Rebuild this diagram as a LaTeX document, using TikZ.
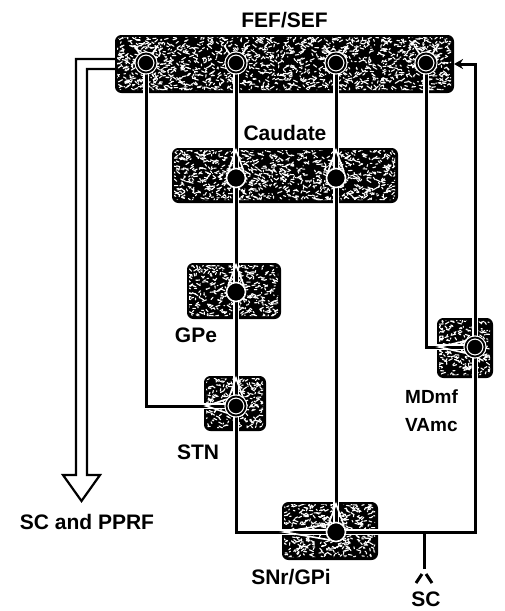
\documentclass[tikz,border=0pt]{standalone}
\usepackage{fontspec}
\newfontfamily\figfont{Liberation Sans}
\usepackage{tikz}
\usetikzlibrary{positioning,arrows.meta,calc,backgrounds}

\tikzset{
  region/.style={draw=black, fill=black, line width=1pt, rounded corners=6pt,
                 inner sep=0pt, anchor=north west},
  grain/.style={white, line width=1.1pt, line cap=round},
  lbl/.style={font=\figfont\bfseries\fontsize{21}{23}\selectfont, inner sep=0pt},
  wire/.style={line width=3pt},
  cased/.style={wire, preaction={draw=white, line width=6.4pt}},
  dend/.style={white, line width=1.6pt, line cap=round},
  soma/.style={circle, fill=black, draw=white, line width=1.6pt,
               minimum size=19pt, inner sep=0pt},
  pyr/.style={soma, double=black, double distance=1.8pt, line width=1.2pt}
}

% white grain inside a region: node, width, height, count
\newcommand{\speckle}[4]{%
  \begin{scope}[shift={(#1.north west)}]
    \clip[rounded corners=4pt] (2,2) rectangle (#2-2,#3-2);
    \foreach \k in {1,...,#4}
      \draw[grain] ({rnd*#2},{rnd*#3}) -- ++({4*rand},{2.5*rand});
  \end{scope}}

\begin{document}
\begin{tikzpicture}[x=1pt, y=-1pt]
\useasboundingbox (0,0) rectangle (504,611);
\pgfmathsetseed{42}

% cells
\node[pyr]  (fefA)  at (146,63)  {};
\node[pyr]  (fefB)  at (236,63)  {};
\node[pyr]  (fefC)  at (336,63)  {};
\node[pyr]  (fefD)  at (426,63)  {};
\node[soma] (caudA) at (236,178) {};
\node[soma] (caudB) at (336,178) {};
\node[soma] (gpeC)  at (236,292) {};
\node[pyr]  (stnC)  at (236,406) {};
\node[soma] (snrC)  at (336,532) {};
\node[pyr]  (mdC)   at (475,347) {};

\begin{scope}[on background layer]
% regions
\node[region, minimum width=338pt, minimum height=57pt] (fef)  at (115,35)  {};
\node[region, minimum width=225pt, minimum height=54pt] (caud) at (172,148) {};
\node[region, minimum width=93pt,  minimum height=55pt] (gpe)  at (187,263) {};
\node[region, minimum width=61pt,  minimum height=54pt] (stn)  at (204,376) {};
\node[region, minimum width=55pt,  minimum height=59pt] (mdmf) at (437,318) {};
\node[region, minimum width=95pt,  minimum height=57pt] (snr)  at (282,502) {};
\speckle{fef}{338}{57}{1600}
\speckle{caud}{225}{54}{1000}
\speckle{gpe}{93}{55}{420}
\speckle{stn}{61}{54}{270}
\speckle{mdmf}{55}{59}{270}
\speckle{snr}{95}{57}{450}

% pathways
\draw[cased] (fefA) |- (stnC);
\draw[cased] (fefB) -- (caudA);
\draw[cased] (fefC) -- (caudB);
\draw[cased] (fefD) |- (mdC);
\draw[cased] (caudA) -- (gpeC);
\draw[cased] (caudB) -- (snrC);
\draw[cased] (gpeC) -- (stnC);
\draw[cased] (stnC) |- (snrC);
\draw[cased] (snrC) -| (mdC);
\draw[cased, -{Stealth[length=9pt, width=10pt]}] (mdC) |- (fef.east);

% output to brainstem
\coordinate (pprf) at (81.5,501);
\draw[line width=2.2pt] ([yshift=5pt]fef.west) -| (76,475) -- (63,475) -- (pprf)
  -- (100,475) -- (87,475) |- ([yshift=-5pt]fef.west);
\coordinate (scfork) at (424,532);
\draw[wire] (scfork) -- ++(0,37) coordinate (scend);
\draw[wire] ($(scend)+(-2,5)$) -- ++(-6,9);
\draw[wire] ($(scend)+(2,5)$) -- ++(6,9);

% dendrites
\foreach \c in {fefA,fefB,fefC,fefD} {
  \draw[dend] (\c.125) -- ++(-6,-9);
  \draw[dend] (\c.55) -- ++(6,-9);
}
\draw[dend] (caudA.140) -- ([yshift=-2pt]caudA |- caud.north) -- (caudA.40);
\draw[dend] (caudB.140) -- ([yshift=-2pt]caudB |- caud.north) -- (caudB.40);
\draw[dend] (gpeC.140) -- ([yshift=-2pt]gpeC |- gpe.north) -- (gpeC.40);
\draw[dend] (stnC.140) -- ([yshift=-2pt]stnC |- stn.north) -- (stnC.40);
\draw[dend] (stnC.130) -- ([xshift=2pt]stnC -| stn.west) -- (stnC.230);
\draw[dend] (snrC.140) -- ([yshift=-2pt]snrC |- snr.north) -- (snrC.40);
\draw[dend] (snrC.130) -- ([xshift=2pt]snrC -| snr.west) -- (snrC.230);
\draw[dend] (mdC.140) -- ([xshift=2pt]mdC -| mdmf.west) -- (mdC.220);
\end{scope}

% labels
\node[lbl, above=7pt of fef] (fefL) {FEF/SEF};
\node[lbl, above=7pt of caud] (caudL) {Caudate};
\node[lbl] (gpeL) at (196,335) {GPe};
\node[lbl] (stnL) at (198,452) {STN};
\node[lbl] (snrL) at (291,577) {SNr/GPi};
\node[lbl, font=\figfont\bfseries\fontsize{19}{28}\selectfont, align=left,
      anchor=west] (mdL) at (405,411) {MDmf\\VAmc};
\node[lbl] (pprfL) at (87,522) {SC and PPRF};
\node[lbl] (scL) at (426,599) {SC};
\end{tikzpicture}
\end{document}
